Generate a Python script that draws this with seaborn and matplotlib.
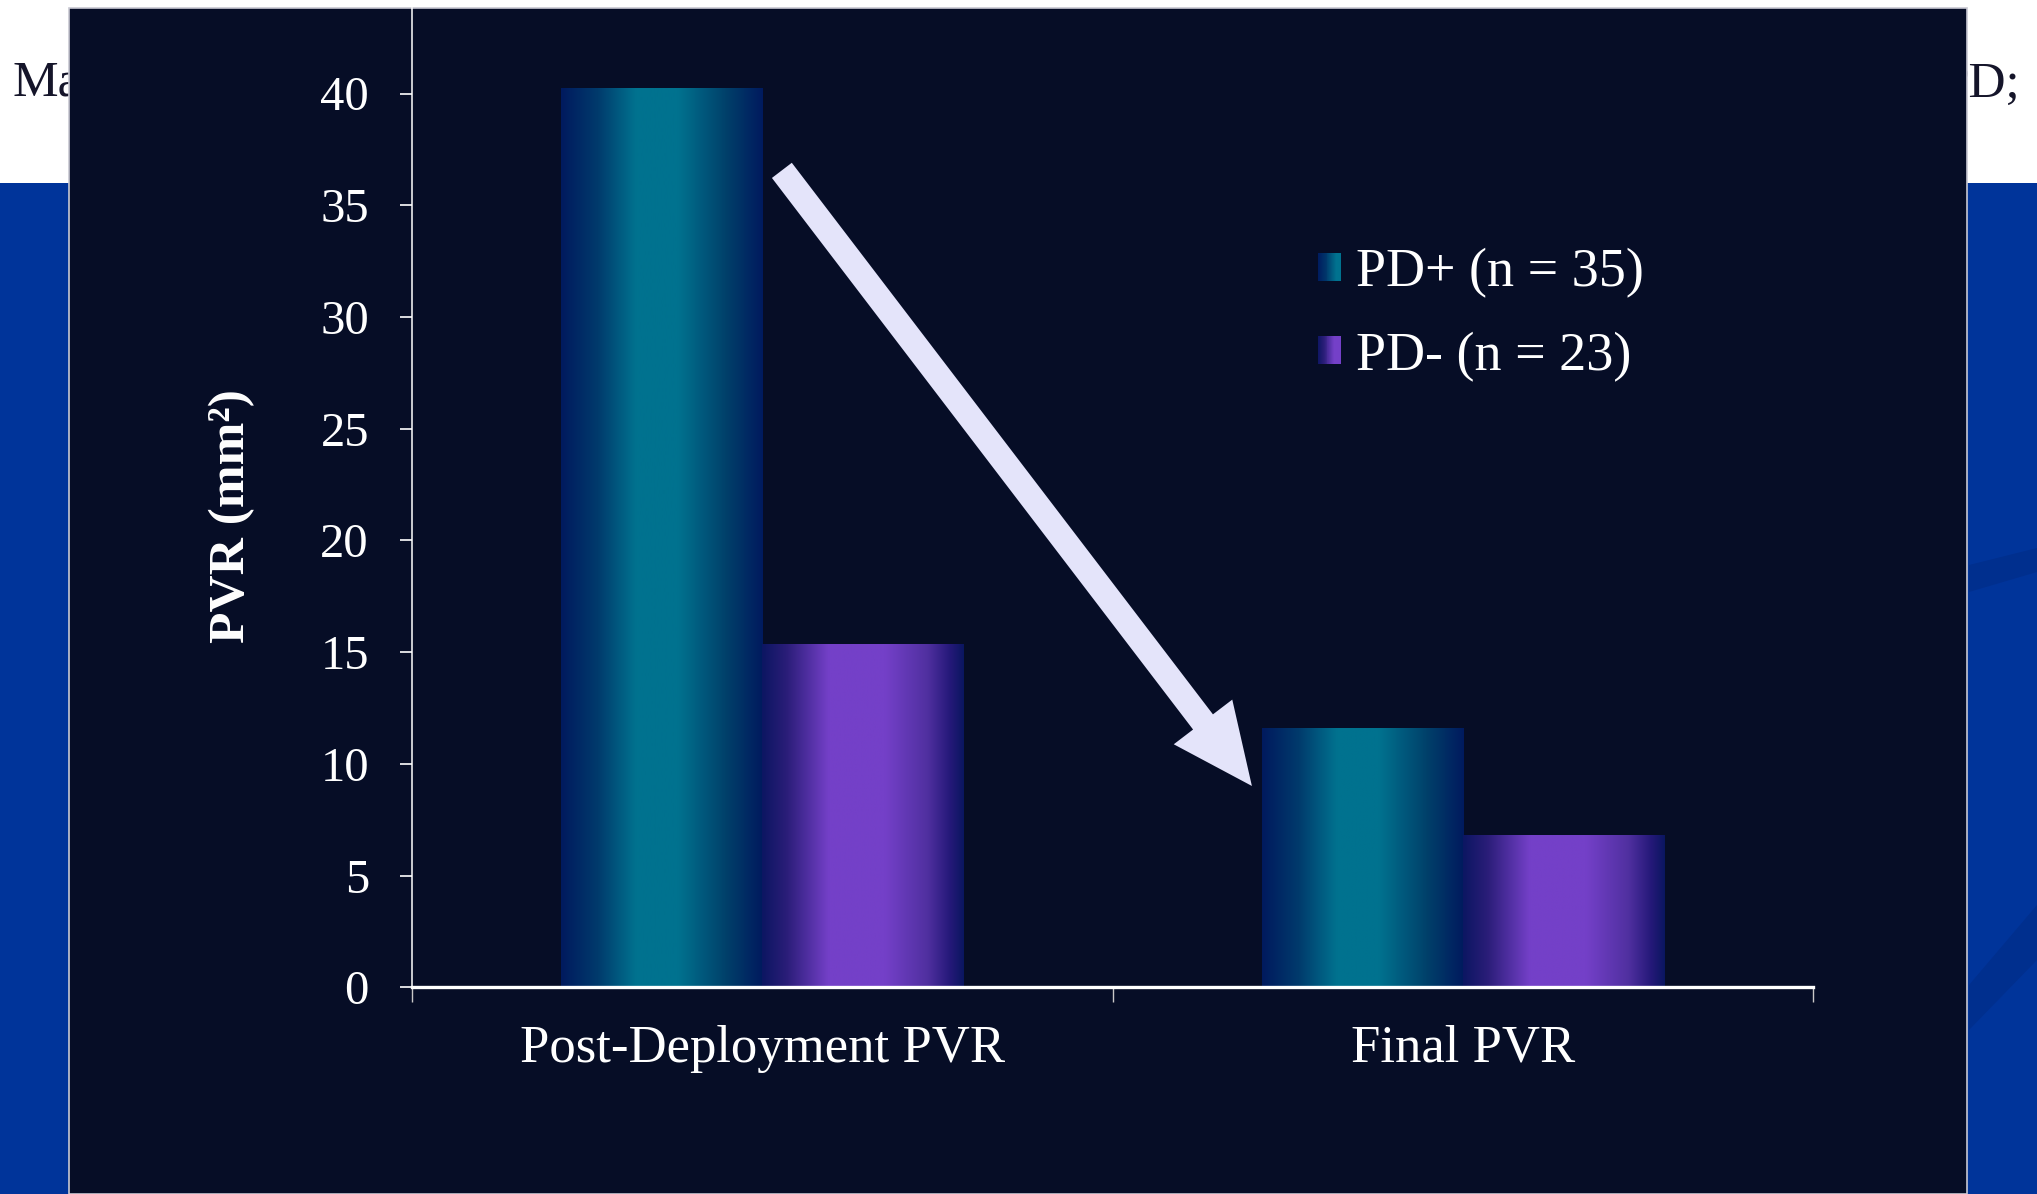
import numpy as np
import pandas as pd
import matplotlib
matplotlib.use("Agg")
import matplotlib.pyplot as plt
import seaborn as sns
from matplotlib.patches import Rectangle, Polygon
from matplotlib.colors import LinearSegmentedColormap
from matplotlib.legend_handler import HandlerBase

# ---------------- data ----------------
categories = ["Post-Deployment PVR", "Final PVR"]
groups = ["PD+ (n = 35)", "PD- (n = 23)"]
pd_plus = [40.2, 11.55]
pd_minus = [15.35, 6.8]
y_ticks = [0, 5, 10, 15, 20, 25, 30, 35, 40]

df = pd.DataFrame({
    "category": categories * 2,
    "group": [groups[0]] * 2 + [groups[1]] * 2,
    "value": pd_plus + pd_minus,
})

# ---------------- style ----------------
sns.set_theme(style="white")
plt.rcParams["font.family"] = ["Liberation Serif", "DejaVu Serif"]

W, H = 2037, 1194
fig = plt.figure(figsize=(W / 100, H / 100), dpi=100)
fig.patch.set_facecolor("white")

def fx(px):
    return px / W

def fy(py):
    return 1 - py / H

# slide background
fig.add_artist(Rectangle((0, 0), 1, fy(183), transform=fig.transFigure,
                         facecolor="#00349a", edgecolor="none", zorder=-6))
fig.add_artist(Polygon([(fx(1969), fy(565)), (fx(2037), fy(548)), (fx(2037), fy(572)), (fx(1969), fy(592))],
                       closed=True, transform=fig.transFigure, facecolor="#002f8e",
                       edgecolor="none", zorder=-5.5))
fig.add_artist(Polygon([(fx(1969), fy(985)), (fx(2037), fy(905)), (fx(2037), fy(960)), (fx(1969), fy(1030))],
                       closed=True, transform=fig.transFigure, facecolor="#002f8e",
                       edgecolor="none", zorder=-5.5))
fig.text(fx(13), fy(96), "Ma", fontsize=37, color="#15152a", va="baseline", ha="left", zorder=-5)
fig.text(fx(2020), fy(97), "PD;", fontsize=37, color="#15152a", va="baseline", ha="right", zorder=-5)
# dark chart panel
fig.add_artist(Rectangle((fx(69), 0), fx(1967) - fx(69), fy(8), transform=fig.transFigure,
                         facecolor="#060d26", edgecolor="#c8c8d2", lw=1.2, zorder=-4))

# axes
ax_left, ax_right, ax_bottom, ax_top = 412, 1813, 987.3, 8
ax = fig.add_axes([fx(ax_left), fy(ax_bottom), fx(ax_right) - fx(ax_left), (ax_bottom - ax_top) / H])
ax.set_facecolor("none")

teal = LinearSegmentedColormap.from_list("teal", [
    (0.0, "#001a5e"), (0.18, "#003a6c"), (0.37, "#00728f"), (0.58, "#00728f"),
    (0.82, "#00406a"), (1.0, "#001a5e")])
purple = LinearSegmentedColormap.from_list("purple", [
    (0.0, "#0c1662"), (0.12, "#2a1d78"), (0.33, "#7440c8"), (0.61, "#7440c8"),
    (0.82, "#5030a0"), (0.93, "#26197a"), (1.0, "#0a1660")])
cmaps = [teal, purple]

sns.barplot(data=df, x="category", y="value", hue="group", hue_order=groups,
            order=categories, palette=["#006a8e", "#6a3cc0"], width=0.574,
            saturation=1, ax=ax)

grad = np.linspace(0, 1, 256).reshape(1, -1)
for container, cm in zip(ax.containers, cmaps):
    for bar in container:
        x0, w, h = bar.get_x(), bar.get_width(), bar.get_height()
        ax.imshow(grad, extent=[x0, x0 + w, 0, h], aspect="auto", cmap=cm,
                  origin="lower", interpolation="bilinear", zorder=2)
        bar.set_facecolor("none")
        bar.set_edgecolor("none")

ax.set_xlim(-0.5, 1.5)
ax.set_ylim(0, (ax_bottom - ax_top) / 22.345)

# arrow
ax.annotate("", xy=(0.699, 9.01), xytext=(0.028, 36.56),
            arrowprops=dict(facecolor="#e4e4fa", edgecolor="none",
                            width=18, headwidth=53, headlength=58, shrink=0),
            zorder=5)

# spines / ticks
for s in ["top", "right"]:
    ax.spines[s].set_visible(False)
ax.spines["left"].set_color("white")
ax.spines["left"].set_linewidth(1.1)
ax.spines["bottom"].set_color("white")
ax.spines["bottom"].set_linewidth(2.4)
ax.spines["bottom"].set_zorder(6)

ax.set_yticks(y_ticks)
ax.tick_params(axis="y", length=9, width=1.2, color="white", pad=22,
               labelsize=35, labelcolor="white", direction="out", left=True)
ax.set_xticks([-0.5, 0.5, 1.5], minor=True)
ax.tick_params(axis="x", which="major", length=0, pad=27, labelsize=38, labelcolor="white")
ax.tick_params(axis="x", which="minor", length=11, width=1.0, color="#c8c8c8",
               direction="out", bottom=True)
ax.set_xlabel("")
ax.set_ylabel("PVR (mm²)", fontsize=37, fontweight="bold", color="white")
ax.yaxis.label.set_va("center")
ax.yaxis.set_label_coords((232 - ax_left) / (ax_right - ax_left),
                          (ax_bottom - 516) / (ax_bottom - ax_top))


class GradHandler(HandlerBase):
    def __init__(self, cmap):
        super().__init__()
        self.cmap = cmap

    def create_artists(self, legend, orig_handle, xdescent, ydescent, width,
                       height, fontsize, trans):
        n = 24
        arts = []
        for i in range(n):
            r = Rectangle((-xdescent + width * i / n, -ydescent), width / n * 1.08, height,
                          facecolor=self.cmap(0.02 + 0.45 * i / n), edgecolor="none",
                          transform=trans)
            arts.append(r)
        return arts


handles, labels = ax.get_legend_handles_labels()
if ax.get_legend() is not None:
    ax.get_legend().remove()
ax.legend(handles, labels,
          handler_map={handles[0]: GradHandler(teal), handles[1]: GradHandler(purple)},
          loc="center left", bbox_to_anchor=(fx(1318), fy(315)),
          bbox_transform=fig.transFigure, frameon=False, fontsize=39,
          labelcolor="white", handlelength=0.42, handleheight=0.42,
          handletextpad=0.28, labelspacing=0.6, borderpad=0, borderaxespad=0)

fig.savefig("out.png", dpi=100, facecolor=fig.get_facecolor())
